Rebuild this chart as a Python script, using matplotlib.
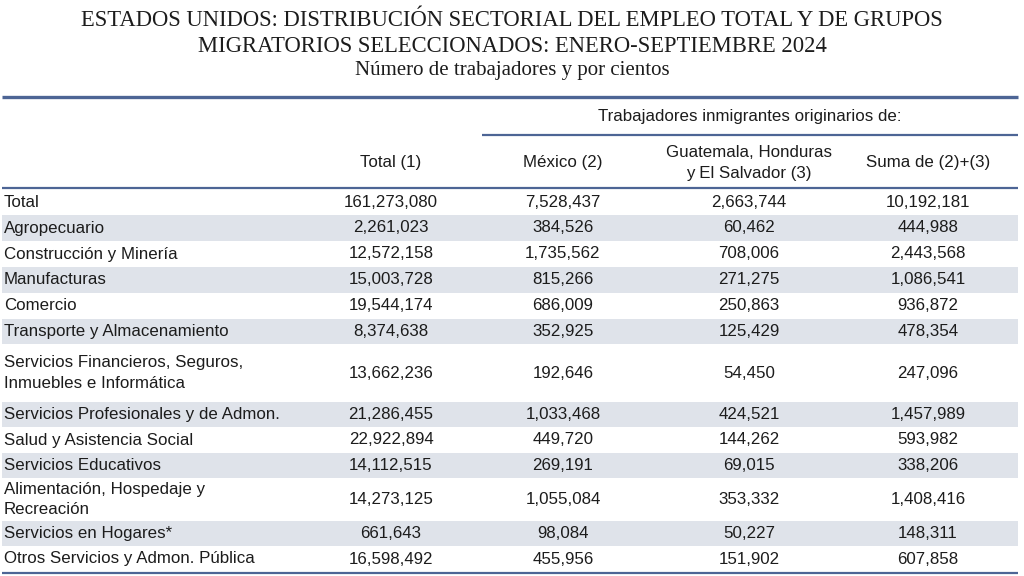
import matplotlib
matplotlib.use("Agg")
import matplotlib.pyplot as plt
from matplotlib.patches import Rectangle

# --- data ---
title_lines = [
    "ESTADOS UNIDOS: DISTRIBUCIÓN SECTORIAL DEL EMPLEO TOTAL Y DE GRUPOS",
    "MIGRATORIOS SELECCIONADOS: ENERO-SEPTIEMBRE 2024",
]
subtitle = "Número de trabajadores y por cientos"
group_header = "Trabajadores inmigrantes originarios de:"
col_headers = ["Total (1)", "México (2)", "Guatemala, Honduras\ny El Salvador (3)", "Suma de (2)+(3)"]

sectors = [
    "Total",
    "Agropecuario",
    "Construcción y Minería",
    "Manufacturas",
    "Comercio",
    "Transporte y Almacenamiento",
    "Servicios Financieros, Seguros,\nInmuebles e Informática",
    "Servicios Profesionales y de Admon.",
    "Salud y Asistencia Social",
    "Servicios Educativos",
    "Alimentación, Hospedaje y\nRecreación",
    "Servicios en Hogares*",
    "Otros Servicios y Admon. Pública",
]
total_us = [161273080, 2261023, 12572158, 15003728, 19544174, 8374638, 13662236,
            21286455, 22922894, 14112515, 14273125, 661643, 16598492]
mexico = [7528437, 384526, 1735562, 815266, 686009, 352925, 192646,
          1033468, 449720, 269191, 1055084, 98084, 455956]
centroam = [2663744, 60462, 708006, 271275, 250863, 125429, 54450,
            424521, 144262, 69015, 353332, 50227, 151902]
suma = [10192181, 444988, 2443568, 1086541, 936872, 478354, 247096,
        1457989, 593982, 338206, 1408416, 148311, 607858]

# --- layout (pixels) ---
W, H = 1024, 576
row_edges = [190, 215, 241, 267, 293, 319, 344, 402, 427, 453, 478, 521, 546, 572]
col_x = [391, 563, 749, 928]
line_color = "#4d6595"
shade = "#dfe3ea"
txt = "#1c1c1c"
fs = 12.2

fig = plt.figure(figsize=(W / 100, H / 100), dpi=100)
ax = fig.add_axes([0, 0, 1, 1])
ax.set_xlim(0, W)
ax.set_ylim(H, 0)
ax.axis("off")

serif = "Liberation Serif"
sans = "Liberation Sans"

ax.text(W / 2, 21, title_lines[0], ha="center", va="center", family=serif,
        fontsize=16.3, color=txt)
ax.text(W / 2, 46, title_lines[1], ha="center", va="center", family=serif,
        fontsize=16.3, color=txt)
ax.text(W / 2, 70, subtitle, ha="center", va="center", family=serif,
        fontsize=15, color=txt)

# rules
ax.plot([2, 1018], [97, 97], color=line_color, lw=2.4, solid_capstyle="butt")
ax.plot([482, 1018], [135, 135], color=line_color, lw=1.6, solid_capstyle="butt")
ax.plot([2, 1018], [188, 188], color=line_color, lw=1.6, solid_capstyle="butt")
ax.plot([2, 1018], [573, 573], color=line_color, lw=1.6, solid_capstyle="butt")

ax.text(750, 117, group_header, ha="center", va="center", family=sans,
        fontsize=fs, color=txt)
for x, h in zip(col_x, col_headers):
    ax.text(x, 163, h, ha="center", va="center", family=sans, fontsize=fs,
            color=txt, linespacing=1.42)

cols = [total_us, mexico, centroam, suma]
for i, name in enumerate(sectors):
    y0, y1 = row_edges[i], row_edges[i + 1]
    yc = (y0 + y1) / 2
    if i % 2 == 1:
        ax.add_patch(Rectangle((2, y0), 1016, y1 - y0, color=shade, lw=0, zorder=0))
    ax.text(4, yc, name, ha="left", va="center", family=sans, fontsize=fs,
            color=txt, linespacing=1.42)
    for x, vals in zip(col_x, cols):
        ax.text(x, yc, f"{vals[i]:,}", ha="center", va="center", family=sans,
                fontsize=fs, color=txt)

fig.savefig("out.png", dpi=100, facecolor="white")
